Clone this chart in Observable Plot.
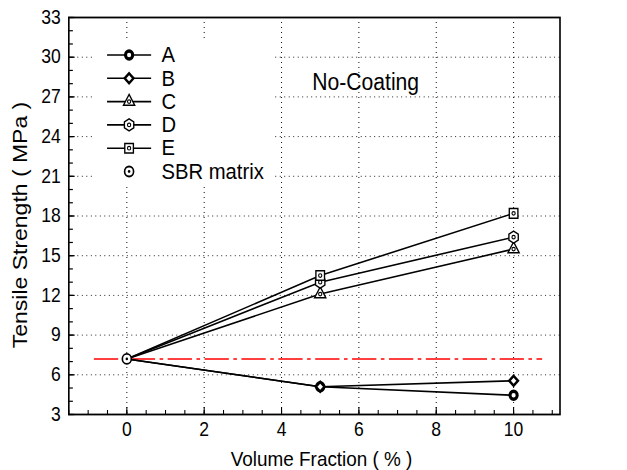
<!DOCTYPE html>
<html><head><meta charset="utf-8">
<script src="https://cdn.jsdelivr.net/npm/d3@7"></script>
<script src="https://cdn.jsdelivr.net/npm/@observablehq/plot@0.6"></script>
<style>
html,body{margin:0;background:#fff;overflow:hidden}
#chart{width:627px;height:470px;overflow:hidden}
#chart svg{display:block;transform-origin:0 0;transform:scale(0.8996,1);max-width:none !important;width:697px !important;height:470px !important}
</style>
</head><body><div id="chart"></div>
<script>
// ---- data ----
const volumeFraction = [0, 5, 10];
const seriesNames = ["A", "B", "C", "D", "E"];
const seriesA = [7.2, 5.1, 4.45];
const seriesB = [7.2, 5.1, 5.55];
const seriesC = [7.2, 12.1, 15.5];
const seriesD = [7.2, 13.0, 16.4];
const seriesE = [7.2, 13.5, 18.2];
const sbrLabel = "SBR matrix";
const sbrMatrix = 7.2;
const sbrLineExtent = [-0.84, 10.75];
const xTicks = [0, 2, 4, 6, 8, 10];
const yTicks = [3, 6, 9, 12, 15, 18, 21, 24, 27, 30, 33];
const xDomain = [-1.5, 11.2];
const yDomain = [3, 33];
const annotation = "No-Coating";
const xTitle = "Volume Fraction ( % )";
const yTitle = "Tensile Strength ( MPa )";

// ---- layout (drawn on a 697px-wide canvas, then fitted horizontally to 627px) ----
const W = 697, H = 470;
const mL = 76, mR = 75, mT = 17, mB = 56;
const plotW = W - mL - mR, plotH = H - mT - mB;
const FONT = "Liberation Sans, Arial, Helvetica, sans-serif";

const values = [seriesA, seriesB, seriesC, seriesD, seriesE];
const rows = seriesNames.flatMap((s, i) => volumeFraction.map((x, j) => ({series: s, x, y: values[i][j]})));
const xMinor = d3.range(-1.5, 11.001, 0.5);
const yMinor = d3.range(3, 33.001, 1);

const black = "black";
const innerRing = {symbol: "circle", r: 1.8, fill: "white", stroke: black, strokeWidth: 1.2};
const markerSpecs = {
  A: [{symbol: "circle", r: 4, fill: "white", stroke: black, strokeWidth: 3.4}],
  B: [{symbol: "diamond2", r: 4.4, fill: "white", stroke: black, strokeWidth: 2.6}],
  C: [{symbol: "triangle", r: 4.6, fill: "white", stroke: black, strokeWidth: 1.5}, innerRing],
  D: [{symbol: "hexagon", r: 5.2, fill: "white", stroke: black, strokeWidth: 1.5}, innerRing],
  E: [{symbol: "square", r: 5.4, fill: "white", stroke: black, strokeWidth: 1.5}, innerRing],
  SBR: [{symbol: "circle", r: 5, fill: "white", stroke: black, strokeWidth: 1.8}, {symbol: "circle", r: 1.4, fill: black, stroke: "none"}]
};

function markers(key, data, pos) {
  return markerSpecs[key].map(s => Plot.dot(data, {...pos, ...s}));
}

const lineSymbol = {draw(ctx) { ctx.moveTo(-24.5, 0); ctx.lineTo(24.5, 0); }};
const boxSymbol = {draw(ctx) { ctx.rect(-100, -74, 200, 148); }};

const marks = [
  // grid
  Plot.ruleX(xTicks, {x: d => d, stroke: black, strokeWidth: 1, strokeDasharray: "1,4"}),
  Plot.ruleY(yTicks.filter(d => d > yDomain[0] && d < yDomain[1]), {y: d => d, stroke: black, strokeWidth: 1, strokeDasharray: "1,4"}),
  // legend background (opaque, no border)
  Plot.dot([0], {frameAnchor: "top-left", dx: 129, dy: 95, symbol: boxSymbol, fill: "white", stroke: "none"}),
  // inward ticks
  Plot.tickX(xMinor, {x: d => d, insetTop: plotH - 4, stroke: black, strokeWidth: 1.2}),
  Plot.tickX(xTicks, {x: d => d, insetTop: plotH - 7, stroke: black, strokeWidth: 1.2}),
  Plot.tickY(yMinor, {y: d => d, insetRight: plotW - 5, stroke: black, strokeWidth: 1.2}),
  Plot.tickY(yTicks, {y: d => d, insetRight: plotW - 7, stroke: black, strokeWidth: 1.2}),
  // SBR matrix reference line
  Plot.ruleY([sbrMatrix], {y: d => d, x1: sbrLineExtent[0], x2: sbrLineExtent[1], stroke: "red", strokeWidth: 1.5, strokeDasharray: "27,5,4,5"}),
  // series lines
  Plot.line(rows, {x: "x", y: "y", z: "series", stroke: black, strokeWidth: 1.6}),
];
seriesNames.forEach(s => {
  marks.push(...markers(s, rows.filter(d => d.series === s && d.x > 0), {x: "x", y: "y"}));
});
marks.push(...markers("SBR", [{x: volumeFraction[0], y: sbrMatrix}], {x: "x", y: "y"}));

// legend
const legendKeys = [...seriesNames, "SBR"];
const legendLabels = [...seriesNames, sbrLabel];
legendKeys.forEach((k, i) => {
  const dy = 37.5 + i * 23.3;
  const pos = {frameAnchor: "top-left", dx: 67, dy};
  if (k !== "SBR") marks.push(Plot.dot([0], {...pos, symbol: lineSymbol, stroke: black, strokeWidth: 1.6, fill: "none"}));
  marks.push(...markers(k, [0], pos));
  marks.push(Plot.text([legendLabels[i]], {frameAnchor: "top-left", dx: 103, dy, text: d => d, textAnchor: "start", lineAnchor: "middle", fontSize: 22.5, fill: black}));
});

marks.push(
  Plot.text([annotation], {frameAnchor: "top-left", dx: 330, dy: 64.5, text: d => d, textAnchor: "middle", lineAnchor: "middle", fontSize: 23.5, fill: black}),
  Plot.text([xTitle], {frameAnchor: "bottom", dx: 8, dy: 45, text: d => d, textAnchor: "middle", lineAnchor: "middle", fontSize: 21, fill: black}),
  Plot.text([yTitle], {frameAnchor: "left", dx: -54, dy: 9, rotate: -90, text: d => d, textAnchor: "middle", lineAnchor: "middle", fontSize: 23, fill: black}),
  Plot.frame({stroke: black, strokeWidth: 1.8})
);

const chart = Plot.plot({
  width: W, height: H,
  marginLeft: mL, marginRight: mR, marginTop: mT, marginBottom: mB,
  style: {fontFamily: FONT, fontSize: "19.5px", background: "white", color: "black"},
  x: {domain: xDomain, ticks: xTicks, tickSize: 0, tickPadding: 8, label: null},
  y: {domain: yDomain, ticks: yTicks, tickSize: 0, tickPadding: 9, label: null},
  marks
});
chart.style.maxWidth = "none";
document.getElementById("chart").append(chart);
</script>
</body></html>
